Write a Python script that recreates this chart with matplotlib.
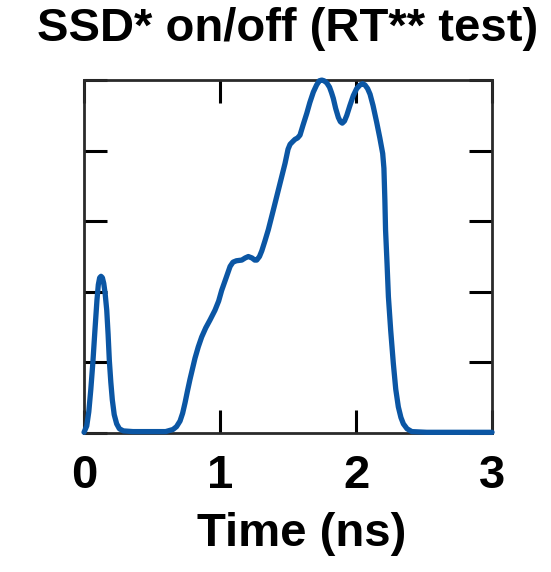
import matplotlib
matplotlib.use('Agg')
import matplotlib.pyplot as plt

# pulse shape (time in ns, arbitrary intensity units)
time_ns = [0.000, 0.020, 0.035, 0.050, 0.065, 0.080, 0.095, 0.105, 0.115, 0.125,
           0.135, 0.145, 0.155, 0.167, 0.177, 0.186, 0.197, 0.208, 0.222, 0.240,
           0.260, 0.289, 0.360, 0.560, 0.600, 0.654, 0.680, 0.706, 0.725, 0.743,
           0.760, 0.779, 0.816, 0.840, 0.865, 0.895, 0.926, 0.963, 0.990, 1.012,
           1.045, 1.074, 1.095, 1.120, 1.160, 1.185, 1.208, 1.235, 1.255, 1.270,
           1.290, 1.307, 1.330, 1.355, 1.392, 1.435, 1.478, 1.500, 1.515, 1.535,
           1.551, 1.570, 1.588, 1.610, 1.638, 1.660, 1.686, 1.710, 1.730, 1.748,
           1.765, 1.785, 1.805, 1.820, 1.833, 1.850, 1.870, 1.885, 1.899, 1.915,
           1.932, 1.955, 1.980, 2.005, 2.029, 2.048, 2.066, 2.085, 2.103, 2.125,
           2.152, 2.175, 2.196, 2.205, 2.212, 2.217, 2.228, 2.238, 2.255, 2.274,
           2.292, 2.311, 2.330, 2.348, 2.375, 2.410, 2.520, 3.000]
intensity = [0.01, 0.10, 0.30, 0.62, 1.00, 1.45, 1.88, 2.10, 2.20, 2.22,
             2.20, 2.12, 1.98, 1.74, 1.40, 1.03, 0.72, 0.47, 0.26, 0.13,
             0.06, 0.03, 0.02, 0.02, 0.02, 0.05, 0.09, 0.17, 0.28, 0.43,
             0.59, 0.76, 1.06, 1.22, 1.36, 1.49, 1.60, 1.74, 1.87, 2.02,
             2.20, 2.36, 2.42, 2.44, 2.45, 2.48, 2.50, 2.48, 2.45, 2.45,
             2.50, 2.58, 2.72, 2.88, 3.16, 3.49, 3.82, 4.02, 4.09, 4.13,
             4.16, 4.18, 4.22, 4.36, 4.53, 4.68, 4.83, 4.93, 4.99, 5.00,
             4.99, 4.96, 4.90, 4.82, 4.74, 4.60, 4.47, 4.41, 4.39, 4.42,
             4.50, 4.64, 4.78, 4.88, 4.93, 4.95, 4.93, 4.88, 4.80, 4.64,
             4.40, 4.18, 3.96, 3.75, 3.30, 2.88, 2.40, 1.93, 1.45, 0.99,
             0.62, 0.37, 0.22, 0.13, 0.06, 0.02, 0.01, 0.01]

x_ticks = [0, 1, 2, 3]
y_ticks = [0, 1, 2, 3, 4, 5]

title = 'SSD* on/off (RT** test)'
x_label = 'Time (ns)'

plt.rcParams['font.family'] = ['Liberation Sans', 'DejaVu Sans']
plt.rcParams['font.weight'] = 'bold'

fig = plt.figure(figsize=(5.51, 5.72), dpi=100)
ax = fig.add_axes([0.1525, 0.243, 0.7405, 0.617])

ax.plot(time_ns, intensity, color='#0b56a4', linewidth=3.8, clip_on=False,
        solid_capstyle='round', solid_joinstyle='round', zorder=3)

ax.set_xlim(0, 3)
ax.set_ylim(0, 5)
ax.set_xticks(x_ticks)
ax.set_yticks(y_ticks)
ax.set_yticklabels([])
ax.tick_params(axis='both', direction='in', length=16.5, width=2.2,
               color='black', top=True, right=True)
ax.tick_params(axis='x', labelsize=34, pad=15)
for lbl in ax.get_xticklabels():
    lbl.set_fontweight('bold')

for sp in ax.spines.values():
    sp.set_linewidth(2.0)
    sp.set_color('#2a2a2a')

ax.set_title(title, fontsize=34, fontweight='bold', pad=28)
ax.set_xlabel(x_label, fontsize=34, fontweight='bold')
ax.xaxis.set_label_coords(0.534, -0.225)

fig.savefig('out.png', dpi=100)
